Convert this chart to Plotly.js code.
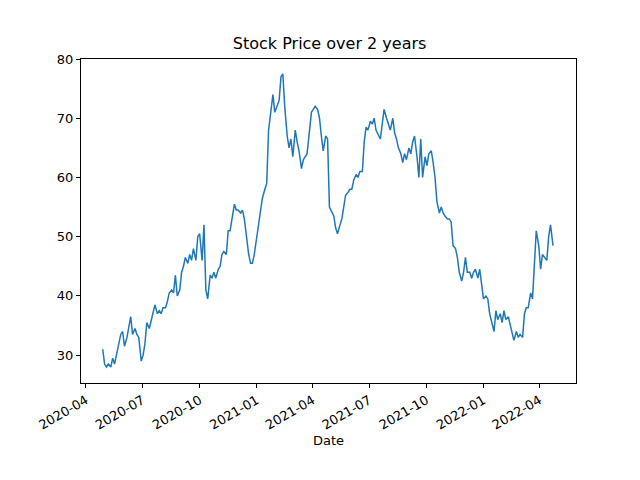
<!DOCTYPE html>
<html>
<head>
<script src="https://cdn.plot.ly/plotly-3.0.1.min.js"></script>
<style>body{margin:0}</style>
</head>
<body>
<div id="chart" style="width:640px;height:480px"></div>
<script>
// Values, roughly one per trading-ish step
const startDate = '2020-04-28';
const endDate = '2022-04-23';
const prices = [
  31, 28.5, 28, 28.5, 28, 29.5, 28.5, 30, 32, 33.5, 34, 31.5, 33, 35, 36.5, 33.5, 34.5, 33.5, 33,
  29, 30, 32, 35.5, 34.5, 36, 37, 38.5, 37, 37.5, 37, 38, 38, 39, 40.5, 41, 40.5, 43.5,
  40, 41, 44, 45, 46.5, 45.5, 47, 46, 48, 46, 50, 50.5, 46, 52, 41, 39.5,
  43.5, 43, 44, 43, 44.5, 45, 47, 47.5, 47, 51, 51, 54, 55.5, 54.5, 54.5, 54, 54.5,
  53, 50, 47, 45.5, 45.5, 47, 50, 51.5, 54, 56.5, 58, 59,
  68, 72, 74, 71, 72, 73, 77, 77.5, 72, 67, 65, 66.5, 63.5, 68, 66, 64.5, 61.5, 63, 63.5, 64,
  68, 71, 71.5, 72, 71.5, 70, 67, 64.5, 67, 66.5,
  55, 54, 53.5, 51.5, 50.5, 52, 53, 55, 57, 57.5, 58, 58, 59.5, 60.5, 60, 61,
  61, 66, 68.5, 68, 69.5, 69, 70, 68, 67, 66.5, 69, 71.5, 70, 69,
  68, 70, 67.5, 66.5, 65, 64, 62.5, 64, 63, 65, 64, 66, 67, 63.5, 60, 66.5, 60,
  63.5, 62, 64, 64.5, 62.5, 60, 56, 54, 55, 54, 53.5, 53, 53, 52.5, 48.5, 48, 46.5, 44, 42.5,
  44, 46.5, 44, 44, 43, 44, 44.5, 43, 44.5, 42, 39.5, 40, 39.5,
  37, 35, 34, 37.5, 36, 37, 35.5, 37.5, 36, 36.5, 35, 33.5, 32.5,
  34, 33, 33.5, 33, 37, 38, 38, 40.5, 39.5, 45, 51, 48.5,
  44.5, 47, 46.5, 46, 50, 52, 48.5
];

const t0 = new Date(startDate).getTime();
const t1 = new Date(endDate).getTime();
const dates = prices.map((_, i) =>
  new Date(t0 + (t1 - t0) * i / (prices.length - 1)).toISOString().slice(0, 10));

const axisCommon = {
  showgrid: false, zeroline: false,
  showline: true, mirror: true, linecolor: '#000', linewidth: 1,
  ticks: 'outside', ticklen: 4, tickcolor: '#000',
  tickfont: { family: 'DejaVu Sans', size: 13, color: '#000' }
};

const layout = {
  width: 640, height: 480,
  paper_bgcolor: '#fff', plot_bgcolor: '#fff',
  margin: { l: 81, r: 64, t: 59, b: 97 },
  showlegend: false,
  title: {
    text: 'Stock Price over 2 years',
    font: { family: 'DejaVu Sans', size: 16, color: '#000' },
    x: 0.515, xanchor: 'center', y: 0.91, yanchor: 'middle'
  },
  xaxis: Object.assign({}, axisCommon, {
    type: 'date',
    range: ['2020-03-24', '2022-05-30'],
    tick0: '2020-04-01', dtick: 'M3',
    tickformat: '%Y-%m', tickangle: -30,
    title: { text: 'Date', font: { family: 'DejaVu Sans', size: 13, color: '#000' }, standoff: 4 }
  }),
  yaxis: Object.assign({}, axisCommon, {
    range: [25.3, 80],
    tickvals: [30, 40, 50, 60, 70, 80]
  })
};

Plotly.newPlot('chart', [{
  x: dates, y: prices, mode: 'lines',
  line: { color: '#1f77b4', width: 1.5 }
}], layout, { displayModeBar: false, staticPlot: true });
</script>
</body>
</html>
